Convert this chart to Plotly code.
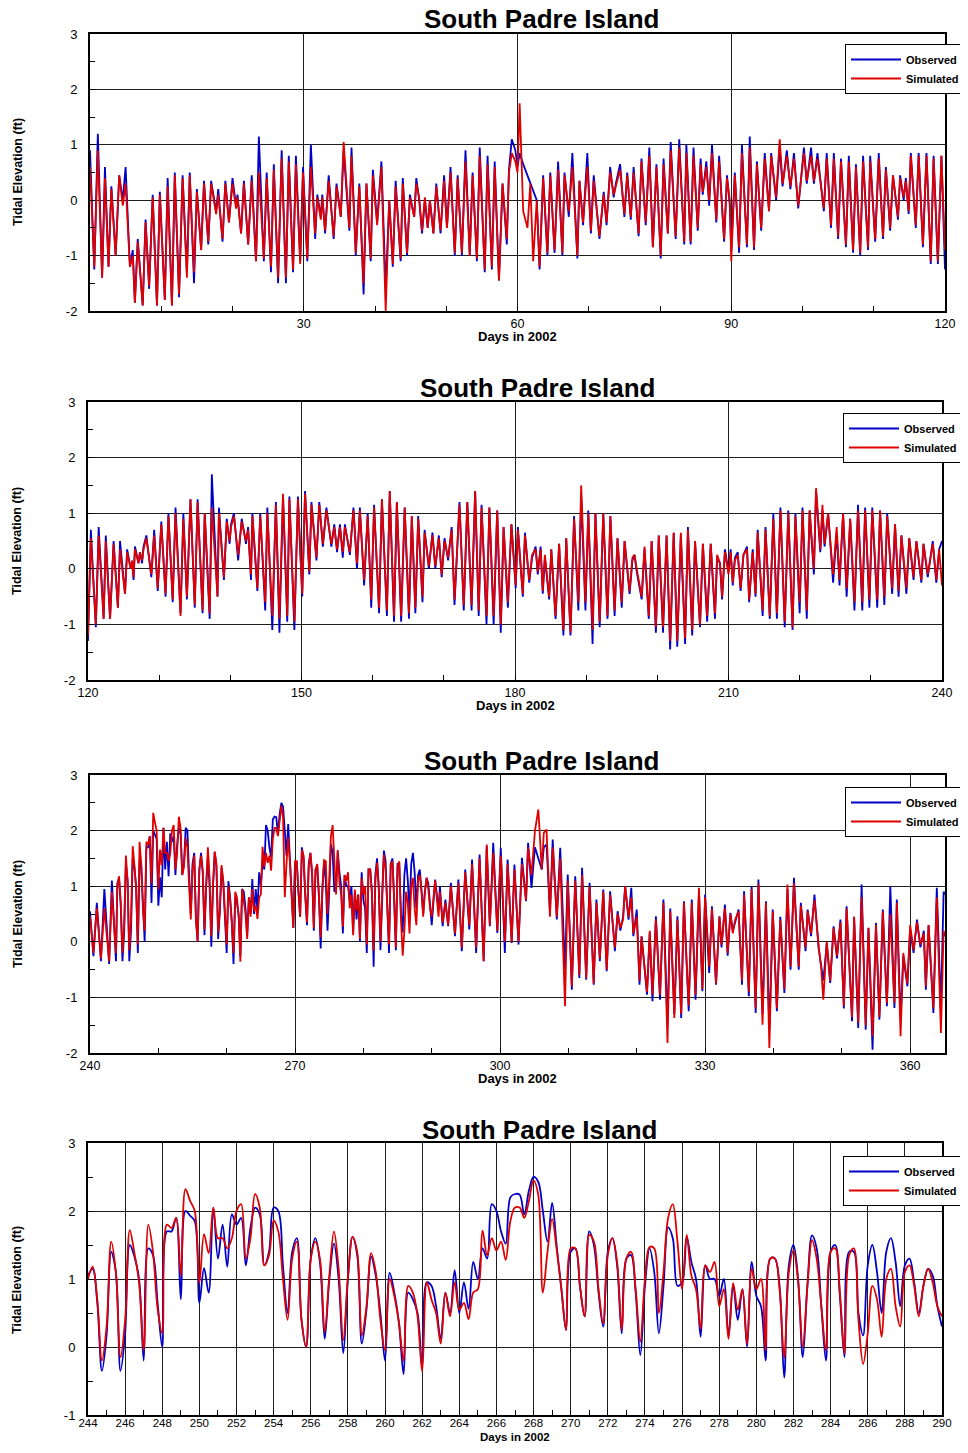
import numpy as np
import plotly.graph_objects as go

# ---------------- DATA ----------------
# Panel 1: days 0-120
p1_day = [0.0, 0.6, 1.1, 1.7, 2.1, 2.6, 3.0, 3.6, 4.1, 4.6,
          5.0, 5.6, 6.0, 6.3, 6.7, 7.4, 7.8, 8.3, 8.8, 9.4,
          9.8, 10.5, 10.9, 11.5, 11.9, 12.5, 13.0, 13.6, 14.0, 14.6,
          15.0, 15.6, 16.0, 16.6, 17.0, 17.7, 18.0, 18.6, 19.0, 19.5,
          20.0, 20.5, 20.7, 21.2, 21.6, 22.2, 22.7, 23.3, 23.7, 24.4,
          24.8, 25.4, 25.8, 26.4, 26.9, 27.5, 27.9, 28.5, 28.9, 29.5,
          29.9, 30.5, 31.0, 31.6, 31.9, 32.4, 32.6, 33.0, 33.5, 34.2,
          34.6, 35.2, 35.6, 36.0, 36.4, 36.7, 37.3, 37.8, 38.4, 38.8,
          39.4, 39.7, 40.3, 40.9, 41.5, 42.0, 42.5, 42.9, 43.6, 43.9,
          44.5, 44.9, 45.5, 45.8, 46.2, 46.6, 47.0, 47.4, 47.7, 48.2,
          48.6, 49.2, 49.7, 50.1, 50.6, 51.2, 51.6, 52.2, 52.7, 53.3,
          53.7, 54.3, 54.7, 55.4, 55.8, 56.4, 56.8, 57.4, 57.9, 58.5,
          58.8, 59.2, 59.7, 60.0, 60.3, 60.8, 61.4, 61.8, 62.2, 62.7,
          63.1, 63.6, 64.2, 64.6, 65.2, 65.7, 66.3, 66.6, 67.2, 67.7,
          68.4, 68.7, 69.2, 69.8, 70.3, 70.7, 71.5, 72.1, 72.5, 73.0,
          73.5, 73.8, 74.4, 75.0, 75.4, 75.9, 76.3, 77.0, 77.4, 78.0,
          78.5, 79.0, 79.5, 80.1, 80.5, 81.1, 81.5, 82.2, 82.7, 83.4,
          83.7, 84.3, 84.7, 85.3, 85.7, 86.0, 86.5, 86.9, 87.3, 87.9,
          88.3, 89.0, 89.4, 89.8, 90.0, 90.5, 91.1, 91.5, 92.2, 92.6,
          93.2, 93.6, 94.2, 94.7, 95.3, 95.6, 96.3, 96.8, 97.2, 97.8,
          98.3, 98.8, 99.4, 100.2, 100.6, 101.2, 101.6, 102.1, 103.0, 103.4,
          104.0, 104.4, 105.0, 105.4, 106.1, 106.5, 107.1, 107.5, 108.1, 108.5,
          109.2, 109.5, 110.2, 110.7, 111.3, 111.7, 112.3, 112.7, 113.4, 113.7,
          114.2, 114.5, 114.9, 115.2, 115.9, 116.3, 116.9, 117.4, 118.0, 118.4,
          119.0, 119.5, 120.0]
p1_obs = [0.9, -1.25, 1.2, -1.4, 0.6, -1.2, 0.25, -1.0, 0.45, 0.0,
          0.6, -1.2, -0.9, -1.85, -0.7, -1.9, -0.35, -1.6, 0.1, -1.9,
          0.15, -1.8, 0.4, -1.9, 0.5, -1.75, 0.45, -1.3, 0.5, -1.5,
          0.2, -0.9, 0.35, -0.8, 0.35, -0.2, 0.2, -0.75, 0.35, -0.4,
          0.4, -0.1, 0.1, -0.6, 0.35, -0.8, 0.45, -1.1, 1.15, -1.1,
          0.5, -1.3, 0.65, -1.5, 0.9, -1.5, 0.8, -1.3, 0.8, -1.1,
          0.6, -1.1, 1.0, -0.7, 0.1, -0.3, 0.1, -0.6, 0.45, -0.7,
          0.3, -0.3, 0.9, 0.2, -0.55, 0.95, -1.0, 0.3, -1.7, 0.3,
          -1.1, 0.55, -0.4, 0.7, -1.6, 0.0, -1.2, 0.35, -1.1, 0.4,
          -1.0, 0.1, -0.3, 0.4, 0.0, -0.6, 0.0, -0.5, 0.0, -0.6,
          0.3, -0.6, 0.45, -0.5, 0.6, -1.0, 0.45, -1.0, 0.9, -1.0,
          0.5, -1.1, 0.95, -1.3, 0.8, -1.25, 0.7, -1.45, 0.3, -0.8,
          0.55, 1.1, 0.9, 0.6, 0.85, 0.65, None, None, None, 0.0,
          -1.25, 0.45, -1.0, 0.5, -0.95, 0.7, -1.0, 0.5, -0.3, 0.85,
          -1.05, 0.35, -0.45, 0.85, -0.6, 0.45, -0.7, 0.15, -0.45, 0.6,
          0.05, 0.3, 0.65, -0.3, 0.5, -0.35, 0.6, -0.65, 0.75, -0.45,
          0.95, -0.85, 0.65, -1.05, 0.75, -0.6, 1.05, -0.7, 1.1, -0.8,
          1.0, -0.8, 0.95, -0.55, 0.75, 0.1, 0.7, -0.1, 1.0, -0.4,
          0.8, -0.75, 0.45, -0.1, -0.9, 0.5, -0.95, 1.0, -0.85, 1.15,
          -0.9, 0.7, -0.55, 0.85, -0.2, 0.85, 0.0, 0.95, 0.25, 0.9,
          0.2, 0.85, -0.15, 0.95, 0.3, 0.95, 0.3, 0.85, -0.2, 0.85,
          -0.5, 0.85, -0.7, 0.75, -0.85, 0.8, -0.95, 0.65, -1.0, 0.8,
          -0.9, 0.8, -0.75, 0.85, -0.7, 0.6, -0.55, 0.45, -0.35, 0.45,
          0.0, 0.4, -0.25, 0.85, -0.5, 0.85, -0.85, 0.85, -1.15, 0.8,
          -1.15, 0.8, -1.25]
p1_sim = [0.6, -1.2, 0.9, -1.4, 0.4, -1.2, 0.2, -1.0, 0.45, -0.1,
          0.3, -1.2, -1.0, -1.85, -0.75, -1.9, -0.4, -1.55, 0.05, -1.9,
          0.1, -1.8, 0.25, -1.9, 0.45, -1.7, 0.4, -1.4, 0.45, -1.3,
          0.15, -0.9, 0.3, -0.75, 0.3, -0.25, 0.1, -0.7, 0.3, -0.4,
          0.3, -0.15, 0.05, -0.6, 0.3, -0.8, 0.35, -1.1, 0.5, -1.05,
          0.4, -1.2, 0.55, -1.4, 0.75, -1.4, 0.7, -1.25, 0.65, -1.15,
          0.5, -1.05, 0.6, -0.6, 0.05, -0.35, 0.05, -0.55, 0.35, -0.65,
          0.25, -0.3, 1.05, 0.3, -0.5, 0.8, -0.95, 0.25, -1.5, 0.3,
          -1.05, 0.45, -0.45, 0.6, -2.0, 0.0, -1.15, 0.25, -1.05, 0.3,
          -0.95, 0.05, -0.3, 0.3, 0.05, -0.55, 0.05, -0.5, 0.0, -0.6,
          0.25, -0.55, 0.35, -0.5, 0.5, -0.95, 0.4, -0.95, 0.7, -1.0,
          0.45, -1.05, 0.8, -1.25, 0.65, -1.2, 0.6, -1.45, 0.3, -0.7,
          0.5, 0.85, 0.7, 0.5, 1.75, -0.2, -0.5, 0.3, -1.1, 0.0,
          -1.2, 0.4, -0.95, 0.45, -0.9, 0.55, -0.95, 0.45, -0.2, 0.6,
          -1.0, 0.35, -0.4, 0.6, -0.55, 0.35, -0.65, 0.1, -0.4, 0.5,
          0.1, 0.25, 0.55, -0.25, 0.45, -0.3, 0.5, -0.6, 0.7, -0.4,
          0.8, -0.85, 0.6, -1.0, 0.65, -0.6, 0.9, -0.65, 0.95, -0.75,
          0.85, -0.75, 0.8, -0.5, 0.65, 0.15, 0.6, 0.0, 0.85, -0.35,
          0.7, -0.7, 0.4, 0.0, -1.1, 0.45, -0.85, 0.85, -0.8, 0.95,
          -0.85, 0.65, -0.5, 0.75, -0.2, 0.8, 0.05, 1.1, 0.3, 0.8,
          0.25, 0.75, -0.1, 0.85, 0.35, 0.8, 0.35, 0.75, -0.15, 0.75,
          -0.45, 0.75, -0.65, 0.7, -0.8, 0.7, -0.9, 0.6, -0.95, 0.7,
          -0.85, 0.7, -0.7, 0.75, -0.65, 0.55, -0.5, 0.45, -0.3, 0.4,
          0.05, 0.35, -0.2, 0.8, -0.45, 0.8, -0.8, 0.8, -1.1, 0.75,
          -1.1, 0.8, -0.9]

# Panel 2: days 120-240
p2_day = [120.0, 120.4, 121.1, 121.5, 122.2, 122.5, 123.1, 123.6, 124.2, 124.5,
          125.2, 125.5, 126.0, 126.2, 126.4, 126.6, 127.1, 127.3, 127.6, 127.8,
          128.2, 128.9, 129.3, 129.8, 130.3, 130.9, 131.3, 131.9, 132.3, 133.0,
          133.4, 133.9, 134.4, 135.0, 135.4, 136.1, 136.4, 137.1, 137.4, 138.2,
          138.4, 139.1, 139.5, 139.9, 140.1, 140.5, 141.1, 141.6, 142.2, 142.5,
          142.9, 143.1, 143.8, 144.2, 144.9, 145.2, 145.9, 146.4, 146.9, 147.4,
          148.0, 148.3, 149.0, 149.5, 150.1, 150.5, 151.1, 151.4, 152.1, 152.5,
          153.0, 153.5, 154.2, 154.6, 155.0, 155.4, 155.8, 156.1, 156.8, 157.3,
          157.8, 158.2, 158.8, 159.3, 159.8, 160.2, 160.9, 161.3, 162.0, 162.4,
          163.0, 163.4, 164.0, 164.5, 165.1, 165.5, 166.0, 166.4, 167.0, 167.3,
          167.9, 168.4, 168.8, 169.3, 169.7, 170.1, 170.6, 171.1, 171.5, 172.2,
          172.8, 173.3, 173.9, 174.4, 174.9, 175.3, 176.0, 176.4, 177.0, 177.5,
          178.0, 178.4, 179.0, 179.5, 180.1, 180.4, 181.1, 181.4, 182.0, 182.4,
          182.9, 183.2, 183.6, 183.9, 184.2, 184.8, 185.1, 185.7, 186.2, 186.8,
          187.2, 187.8, 188.3, 188.9, 189.3, 189.9, 190.3, 190.9, 191.3, 191.9,
          192.4, 193.0, 193.4, 194.0, 194.4, 195.0, 195.4, 196.1, 196.5, 196.8,
          197.1, 197.8, 198.2, 198.8, 199.2, 199.8, 200.2, 200.8, 201.3, 201.8,
          202.3, 202.8, 203.3, 203.9, 204.3, 204.9, 205.3, 206.0, 206.4, 207.0,
          207.5, 208.1, 208.4, 208.8, 209.1, 209.5, 210.0, 210.3, 210.6, 210.9,
          211.3, 211.7, 212.1, 212.6, 212.9, 213.4, 213.8, 214.1, 214.8, 215.2,
          215.8, 216.3, 216.8, 217.3, 217.9, 218.4, 219.0, 219.4, 220.0, 220.4,
          221.0, 221.4, 222.0, 222.3, 222.9, 223.2, 223.5, 224.0, 224.4, 224.7,
          225.2, 225.6, 226.1, 226.6, 227.1, 227.7, 228.2, 228.8, 229.2, 229.8,
          230.2, 230.9, 231.3, 231.9, 232.3, 233.0, 233.4, 233.9, 234.3, 235.0,
          235.4, 236.0, 236.4, 237.1, 237.4, 238.0, 238.7, 239.2, 239.6, 240.0]
p2_obs = [-1.3, 0.7, -1.05, 0.75, -0.9, 0.6, -0.9, 0.5, -0.7, 0.5,
          -0.45, 0.35, 0.0, 0.1, -0.2, 0.4, 0.1, 0.3, 0.1, 0.4,
          0.6, -0.15, 0.7, -0.4, 0.85, -0.5, 1.0, -0.6, 1.1, -0.8,
          1.0, -0.55, 1.25, -0.7, 1.25, -0.8, 1.0, -0.9, 1.7, -0.5,
          1.1, -0.2, 0.9, 0.45, 0.8, 1.0, 0.15, 0.9, 0.45, 0.75,
          -0.2, 1.0, -0.4, 1.0, -0.75, 1.1, -1.1, 1.2, -1.15, 1.3,
          -0.95, 1.3, -1.1, 1.3, -0.5, 1.4, -0.1, 1.2, 0.15, 1.2,
          0.4, 1.1, 0.4, 0.8, 0.3, 0.8, 0.2, 0.8, 0.25, 1.1,
          0.0, 1.1, -0.3, 1.0, -0.7, 1.15, -0.8, 1.25, -0.85, 1.4,
          -0.95, 1.2, -0.95, 1.1, -0.9, 0.95, -0.8, 0.95, -0.6, 0.7,
          0.0, 0.65, 0.0, 0.6, -0.15, 0.55, 0.15, 0.75, -0.65, 1.2,
          -0.75, 1.2, -0.75, 1.4, -0.85, 1.15, -1.0, 1.1, -1.0, 1.05,
          -1.15, 0.75, -0.7, 0.8, -0.35, 0.75, -0.5, 0.65, -0.25, 0.2,
          0.4, -0.1, 0.4, -0.45, 0.2, -0.55, 0.35, -0.9, 0.45, -1.2,
          0.55, -1.2, 0.95, -0.75, 1.3, -0.75, 1.05, -1.35, 1.0, -1.05,
          1.0, -0.9, 0.95, -0.85, 0.55, -0.7, 0.5, -0.45, 0.15, 0.25,
          -0.05, -0.55, 0.35, -0.9, 0.5, -1.15, 0.6, -1.15, 0.6, -1.45,
          0.65, -1.4, 0.6, -1.35, 0.75, -1.2, 0.5, -1.05, 0.45, -0.95,
          0.45, -0.9, 0.2, 0.1, -0.55, 0.35, -0.05, 0.35, -0.3, 0.2,
          0.3, -0.4, 0.25, 0.4, -0.6, 0.35, -0.5, 0.7, -0.85, 0.75,
          -0.9, 1.0, -0.9, 1.1, -1.05, 1.05, -1.1, 1.0, -0.8, 1.1,
          -0.9, 1.05, -0.1, 1.4, 0.3, 1.05, 0.4, 1.0, 0.3, -0.25,
          0.65, -0.3, 1.0, -0.5, 0.9, -0.75, 1.15, -0.75, 1.1, -0.7,
          1.1, -0.7, 1.05, -0.65, 1.0, -0.45, 0.8, -0.5, 0.6, -0.45,
          0.55, -0.2, 0.5, -0.25, 0.45, -0.15, 0.5, -0.25, 0.35, 0.5]
p2_sim = [-1.2, 0.55, -1.0, 0.6, -0.9, 0.5, -0.9, 0.45, -0.7, 0.35,
          -0.45, 0.3, 0.0, 0.15, -0.15, 0.35, 0.1, 0.3, 0.15, 0.35,
          0.55, -0.1, 0.6, -0.35, 0.8, -0.45, 0.95, -0.55, 1.0, -0.85,
          0.9, -0.5, 1.25, -0.65, 1.2, -0.75, 1.0, -0.8, 1.1, -0.5,
          1.0, -0.15, 0.85, 0.5, 0.75, 0.95, 0.25, 0.85, 0.5, 0.7,
          -0.1, 0.95, -0.35, 0.95, -0.6, 1.0, -0.85, 1.15, -0.9, 1.35,
          -0.85, 1.25, -0.95, 1.25, -0.45, 1.35, -0.05, 1.15, 0.2, 1.15,
          0.45, 1.05, 0.45, 0.75, 0.35, 0.75, 0.3, 0.75, 0.3, 1.05,
          0.1, 1.05, -0.2, 0.95, -0.55, 1.1, -0.7, 1.25, -0.75, 1.4,
          -0.85, 1.2, -0.85, 1.1, -0.8, 0.95, -0.7, 0.9, -0.5, 0.65,
          0.05, 0.6, 0.05, 0.55, -0.1, 0.5, 0.2, 0.7, -0.55, 1.15,
          -0.65, 1.2, -0.65, 1.4, -0.75, 1.1, -0.85, 1.1, -0.85, 1.05,
          -1.0, 0.75, -0.6, 0.8, -0.3, 0.7, -0.45, 0.6, -0.2, 0.25,
          0.35, -0.05, 0.35, -0.4, 0.25, -0.5, 0.35, -0.85, 0.45, -1.1,
          0.55, -1.15, 0.9, -0.6, 1.5, -0.6, 1.0, -1.1, 1.0, -0.95,
          1.0, -0.85, 0.95, -0.75, 0.55, -0.6, 0.5, -0.4, 0.2, 0.25,
          0.0, -0.5, 0.4, -0.85, 0.5, -1.05, 0.6, -1.05, 0.6, -1.3,
          0.65, -1.3, 0.65, -1.25, 0.7, -1.1, 0.5, -1.0, 0.45, -0.85,
          0.45, -0.8, 0.25, 0.1, -0.5, 0.3, -0.1, 0.3, -0.25, 0.15,
          0.25, -0.35, 0.25, 0.35, -0.55, 0.3, -0.45, 0.65, -0.75, 0.7,
          -0.85, 0.9, -0.8, 1.05, -0.95, 1.0, -1.05, 0.95, -0.6, 1.05,
          -0.75, 1.05, 0.0, 1.45, 0.35, 1.15, 0.45, 1.0, 0.35, -0.1,
          0.75, -0.2, 1.0, -0.35, 0.9, -0.6, 1.05, -0.6, 1.05, -0.55,
          1.05, -0.55, 1.05, -0.5, 0.95, -0.35, 0.8, -0.4, 0.6, -0.35,
          0.55, -0.15, 0.5, -0.2, 0.45, -0.1, 0.45, -0.2, 0.35, -0.3]

# Days 244-290 at quarter-day steps (shared by panel 3 and the zoomed panel 4)
p4_start = 244.0
p4_step = 0.25
p4_obs = [1.05, 1.15, 0.65, -0.35,  0.17, 1.4, 1.1, -0.35,
          0.2, 1.5, 1.33, 1.0,  -0.2, 1.45, 1.35, 0.65,
          0.0, 1.7, 1.7, 1.9,  0.7, 2.0, 1.93, 1.85,
          0.65, 1.16, 0.8, 2.05,  1.3, 1.8, 1.18, 1.95,
          1.8, 1.9, 1.2, 1.75,  2.05, 1.95, 1.2, 1.4,
          2.05, 2.0, 1.2, 0.5,  1.4, 1.6, 0.4, 0.0,
          1.3, 1.6, 1.23, 0.12,  1.0, 1.52, 1.0, -0.09,
          0.99, 1.62, 1.35, 0.05,  0.55, 1.33, 1.05, 0.5,
          -0.2, 1.09, 0.8, 0.35,  -0.4, 0.8, 0.7, 0.5,
          -0.26, 0.95, 0.9, 0.6,  0.12, 0.8, 0.5, 1.13,
          0.5, 0.95, 0.56, 1.25,  1.0, 1.45, 1.3, 2.1,
          2.0, 1.7, 1.52, 2.2,  2.25, 2.24, 1.95, 2.3,
          2.5, 2.43, 2.0, 1.55,  2.12, 1.47, 0.85, 0.25,
          1.4, 1.45, 0.89, 0.45,  1.7, 1.5, 0.8, 0.3,
          1.4, 1.6, 1.2, 0.2,  1.3, 1.35, 0.8, -0.12,
          0.9, 1.45, 1.1, 0.2,  0.9, 1.76, 1.6, 0.9,
          0.95, 1.62, 1.25, 1.0,  0.15, 1.2, 1.0, 1.0,
          0.75, 1.0, 0.17, 0.9,  0.4, 0.85, 0.0, 1.25,
          0.75, 0.6, -0.2, 1.3,  1.3, 0.9, -0.45, 1.2,
          1.5, 1.0, -0.15, 0.9,  1.64, 1.45, 0.6, -0.2,
          1.4, 1.5, 0.75, -0.15,  1.4, 1.4, 0.5, 0.17,
          1.2, 1.5, 1.1, 0.5,  1.4, 1.6, 1.25, 0.6,
          1.2, 1.3, 0.95, 0.5,  0.9, 1.15, 1.05, 0.6,
          0.3]
p4_sim = [1.0, 1.18, 0.7, -0.2,  0.3, 1.55, 1.1, -0.15,
          0.4, 1.72, 1.38, 0.95,  -0.05, 1.8, 1.4, 0.56,
          0.2, 1.8, 1.75, 1.9,  1.05, 2.32, 2.15, 2.0,
          0.94, 1.66, 1.38, 2.05,  1.6, 1.6, 1.45, 1.6,
          2.0, 2.1, 1.3, 1.6,  2.25, 2.05, 1.2, 1.35,
          1.86, 1.7, 1.0, 0.4,  1.3, 1.55, 0.4, 0.0,
          1.3, 1.55, 1.28, 0.22,  1.05, 1.7, 1.15, 0.1,
          1.04, 1.62, 1.4, 0.17,  0.6, 1.38, 1.1, 0.4,
          -0.05, 1.0, 0.75, 0.35,  -0.2, 0.9, 0.8, 0.45,
          -0.36, 0.95, 0.7, 0.5,  0.05, 0.8, 0.45, 0.95,
          0.55, 0.65, 0.41, 0.8,  0.85, 1.71, 1.35, 1.6,
          1.42, 1.55, 1.28, 1.85,  2.05, 2.05, 1.9, 2.15,
          2.45, 2.24, 0.8, 1.4,  1.88, 1.42, 0.85, 0.25,
          1.45, 1.45, 0.89, 0.45,  1.65, 1.55, 0.85, 0.35,
          1.35, 1.6, 1.25, 0.25,  1.3, 1.4, 0.85, 0.08,
          1.0, 1.47, 1.45, 0.5,  1.1, 1.9, 2.1, 1.55,
          0.85, 1.65, 1.05, 0.85,  0.27, 1.2, 1.1, 1.25,
          0.6, 0.85, 0.12, 0.94,  0.55, 0.85, 0.05, 1.15,
          0.85, 1.0, -0.05, 1.3,  1.3, 0.85, -0.16, 1.1,
          1.42, 0.95, 0.0, 0.9,  1.57, 1.3, 0.6, -0.05,
          1.4, 1.45, 0.8, -0.1,  1.35, 1.45, 0.4, -0.25,
          0.2, 0.9, 0.7, 0.15,  1.0, 1.15, 0.6, 0.3,
          1.1, 1.2, 0.9, 0.45,  0.9, 1.15, 0.95, 0.6,
          0.45]

# Panel 3 extra segments: days 240-244 and 290-365
p3a_day = [240.0, 240.5, 241.0, 241.6, 242.1, 242.8, 243.2, 243.8]
p3a_obs = [0.55, -0.26, 0.7, -0.35, 0.95, -0.4, 1.1, -0.35]
p3a_sim = [0.45, -0.2, 0.6, -0.3, 0.6, -0.35, 0.9, -0.2]

p3b_day = [290.5, 291.0, 291.2, 291.6, 292.0, 292.4, 292.8, 293.4, 293.9, 294.4,
           294.9, 295.5, 295.9, 296.5, 297.0, 297.6, 298.05, 298.5, 299.0, 299.6,
           300.1, 300.7, 301.1, 301.7, 302.1, 302.7, 303.2, 303.8, 304.1, 304.6,
           305.1, 305.6, 306.1, 306.4, 306.8, 307.3, 307.7, 308.3, 308.8, 309.5,
           309.9, 310.5, 311.0, 311.6, 312.0, 312.6, 313.1, 313.7, 314.1, 314.6,
           315.1, 315.6, 316.1, 316.8, 317.2, 317.6, 318.0, 318.3, 318.8, 319.2,
           319.5, 320.0, 320.4, 320.7, 321.5, 321.9, 322.3, 322.8, 323.4, 323.9,
           324.5, 324.9, 325.5, 325.95, 326.5, 326.9, 327.6, 328.05, 328.6, 329.1,
           329.6, 330.0, 330.6, 331.0, 331.6, 332.1, 332.4, 332.9, 333.3, 333.7,
           334.05, 334.4, 334.9, 335.4, 335.7, 336.4, 336.8, 337.4, 337.8, 338.4,
           338.9, 339.4, 339.9, 340.5, 341.0, 341.6, 342.05, 342.5, 343.0, 343.7,
           344.0, 344.7, 345.0, 345.5, 346.0, 346.6, 347.0, 347.3, 347.8, 348.3,
           348.8, 349.3, 349.8, 350.3, 350.7, 351.5, 351.8, 352.4, 352.9, 353.5,
           353.9, 354.5, 355.0, 355.5, 356.0, 356.6, 357.1, 357.7, 358.05, 358.6,
           359.0, 359.6, 360.0, 360.5, 361.0, 361.5, 362.0, 362.3, 362.7, 363.4,
           363.9, 364.5, 364.9, 365.1]
p3b_obs = [1.12, 0.58, 1.0, 0.28, 0.76, 0.28, 1.06, 0.1, 1.12, -0.17,
           1.3, 0.22, 1.48, -0.2, 1.57, -0.35, 1.72, 0.28, 1.78, 0.16,
           1.69, -0.2, 1.48, -0.02, 1.39, -0.05, 1.51, 0.73, 1.78, 0.97,
           1.7, 1.5, 1.3, 1.7, 1.75, 0.52, 1.84, 0.4, 1.69, -0.5,
           1.21, -0.86, 1.18, -0.65, 1.33, -0.68, 1.06, -0.77, 0.76, -0.35,
           0.94, -0.53, 0.91, -0.17, 0.55, 0.2, 0.45, 1.0, 0.4, 0.97,
           0.1, 0.58, -0.77, 0.1, -0.95, 0.16, -1.07, 0.46, -1.04, 0.76,
           -1.5, 0.6, -1.3, 0.46, -1.37, 0.73, -1.25, 0.76, -1.04, 0.9,
           -0.89, 0.85, -0.56, 0.64, -0.77, 0.46, -0.1, 0.67, -0.25, 0.52,
           0.2, 0.35, 0.58, -0.77, 0.91, -0.98, 1.0, -1.28, 1.12, -1.3,
           0.73, -1.6, 0.58, -1.25, 0.45, -0.92, 0.95, -0.5, 1.15, -0.5,
           0.7, -0.17, 0.58, 0.1, 0.85, -0.11, -0.44, -0.7, -0.02, -0.74,
           0.28, -0.3, 0.4, -1.2, 0.64, -1.43, 0.45, -1.55, 1.03, -1.58,
           0.25, -1.94, 0.34, -1.4, 0.58, -1.16, 1.0, -1.19, 0.76, -1.4,
           -0.26, -0.8, 0.22, -0.2, 0.4, -0.1, 0.2, -0.86, 0.3, -1.28,
           0.97, -1.2, 0.9, 0.85]
p3b_sim = [1.1, 0.45, 0.9, 0.35, 0.7, 0.3, 1.0, 0.15, 1.05, -0.1,
           1.25, 0.3, 1.4, -0.1, 1.5, -0.35, 1.75, 0.3, 1.6, 0.2,
           1.55, 0.0, 1.4, 0.0, 1.3, 0.0, 1.4, 0.75, 1.7, 1.2,
           1.99, 2.38, 1.3, 1.96, 2.02, 0.45, 1.7, 0.45, 1.5, -1.16,
           1.1, -0.8, 1.1, -0.6, 1.2, -0.65, 1.0, -0.75, 0.7, -0.3,
           0.9, -0.5, 0.85, -0.1, 0.5, 0.25, 0.4, 1.0, 0.45, 0.8,
           0.15, 0.45, -0.7, 0.1, -0.9, 0.2, -0.95, 0.4, -0.95, 0.7,
           -1.82, 0.55, -1.37, 0.4, -1.3, 0.7, -1.15, 0.7, -0.95, 0.97,
           -0.85, 0.8, -0.45, 0.6, -0.75, 0.45, -0.05, 0.6, -0.2, 0.5,
           0.15, 0.4, 0.55, -0.7, 0.85, -0.9, 0.95, -1.2, 1.05, -1.49,
           0.7, -1.91, 0.55, -1.2, 0.4, -0.85, 1.03, -0.45, 1.05, -0.45,
           0.65, -0.1, 0.55, 0.15, 0.75, -0.05, -0.5, -1.04, 0.0, -0.7,
           0.25, -0.25, 0.35, -1.15, 0.6, -1.35, 0.45, -1.45, 0.8, -1.5,
           0.25, -1.7, 0.3, -1.35, 0.55, -1.1, 0.5, -1.1, 0.7, -1.7,
           -0.2, -0.75, 0.3, -0.15, 0.35, -0.05, 0.15, -0.8, 0.3, -1.2,
           0.8, -1.64, 0.2, 0.1]

# Tick labels
p1_xticks = [30, 60, 90, 120]
p2_xticks = [120, 150, 180, 210, 240]
p3_xticks = [240, 270, 300, 330, 360]
p4_xticks = list(range(244, 291, 2))
y_ticks_a = [-2, -1, 0, 1, 2, 3]
y_ticks_b = [-1, 0, 1, 2, 3]

TITLE = "South Padre Island"
XTITLE = "Days in 2002"
YTITLE = "Tidal Elevation (ft)"
SERIES = ["Observed", "Simulated"]

# ---------------- BUILD ----------------
# The page keeps the browser's default 8px body margin, so the figure is sized
# to fill the 968x1453 window exactly together with that margin.
PAGE_W, PAGE_H = 968, 1453
OFF = 8
W, H = PAGE_W - 2 * OFF, PAGE_H - 2 * OFF
FONT = "Liberation Sans, Arial, Helvetica, sans-serif"
BLUE = "#0000C8"
RED = "#E00000"
GRID = "#1e1e1e"

p4_day = [round(p4_start + p4_step * i, 2) for i in range(len(p4_obs))]
p3_day = p3a_day + p4_day + p3b_day
p3_obs = p3a_obs + p4_obs + p3b_obs
p3_sim = p3a_sim + p4_sim + p3b_sim


def fx(px):
    return (px - OFF) / W


def fy(py):
    return 1 - (py - OFF) / H


panels = [
    dict(day=p1_day, obs=p1_obs, sim=p1_sim, xr=[0, 120], yr=[-2, 3], xt=p1_xticks,
         yt=y_ticks_a, xminor=10, xtick0=0, box=(90, 945, 34, 311), shape="linear",
         title=(542, 19, "middle"), xlab=(517, 336, "middle", 13), ylab=(18, 172),
         leg=(845, 44), xfont=12.5, xstand=0),
    dict(day=p2_day, obs=p2_obs, sim=p2_sim, xr=[120, 240], yr=[-2, 3], xt=p2_xticks,
         yt=y_ticks_a, xminor=10, xtick0=120, box=(88, 942, 402, 680), shape="linear",
         title=(538, 388, "middle"), xlab=(515, 705, "middle", 13), ylab=(17, 541),
         leg=(843, 413), xfont=12.5, xstand=0),
    dict(day=p3_day, obs=p3_obs, sim=p3_sim, xr=[240, 365.1], yr=[-2, 3], xt=p3_xticks,
         yt=y_ticks_a, xminor=10, xtick0=240, box=(90, 945, 775, 1053), shape="linear",
         title=(542, 761, "middle"), xlab=(517, 1078, "middle", 13), ylab=(18, 914),
         leg=(845, 787), xfont=12.5, xstand=0),
    dict(day=p4_day, obs=p4_obs, sim=p4_sim, xr=[244, 290], yr=[-1, 3], xt=p4_xticks,
         yt=y_ticks_b, xminor=1, xtick0=244, box=(88, 942, 1143, 1415), shape="spline",
         title=(540, 1130, "middle"), xlab=(515, 1445, "bottom", 11.5), ylab=(17, 1280),
         leg=(843, 1156), xfont=11.5, xstand=-4),
]

fig = go.Figure()
annotations = []
layout = dict(
    width=W, height=H, autosize=False,
    margin=dict(l=0, r=0, t=0, b=0, pad=0, autoexpand=False),
    paper_bgcolor="white", plot_bgcolor="white",
    showlegend=True,
    font=dict(family=FONT, color="black"),
)

for i, P in enumerate(panels, start=1):
    sfx = "" if i == 1 else str(i)
    x0, x1, y0, y1 = P["box"]
    leg_name = "legend" if i == 1 else f"legend{i}"
    n = min(len(P["day"]), len(P["obs"]), len(P["sim"]))
    fig.add_trace(go.Scatter(
        x=P["day"][:n], y=P["obs"][:n], mode="lines", name=SERIES[0],
        line=dict(color=BLUE, width=1.8, shape=P["shape"]),
        connectgaps=True, xaxis="x" + sfx, yaxis="y" + sfx, legend=leg_name,
        hoverinfo="skip"))
    fig.add_trace(go.Scatter(
        x=P["day"][:n], y=P["sim"][:n], mode="lines", name=SERIES[1],
        line=dict(color=RED, width=1.8, shape=P["shape"]),
        xaxis="x" + sfx, yaxis="y" + sfx, legend=leg_name, hoverinfo="skip"))

    layout["xaxis" + sfx] = dict(
        domain=[fx(x0), fx(x1)], anchor="y" + sfx, range=P["xr"],
        tickmode="array", tickvals=P["xt"], ticktext=[str(v) for v in P["xt"]],
        ticks="inside", ticklen=5, tickwidth=1, tickcolor="black",
        showline=True, linewidth=2, linecolor="black", mirror=True,
        showgrid=True, gridcolor=GRID, gridwidth=1, zeroline=False,
        tickfont=dict(family=FONT, size=P["xfont"], color="black"),
        ticklabelstandoff=P["xstand"], automargin=False,
        minor=dict(tick0=P["xtick0"], dtick=P["xminor"], ticks="inside", ticklen=5,
                   tickcolor="black", tickwidth=1, showgrid=False),
        fixedrange=True,
    )
    layout["yaxis" + sfx] = dict(
        domain=[fy(y1), fy(y0)], anchor="x" + sfx, range=P["yr"],
        tickmode="array", tickvals=P["yt"], ticktext=[str(v) for v in P["yt"]],
        ticks="inside", ticklen=5, tickwidth=1, tickcolor="black",
        showline=True, linewidth=2, linecolor="black", mirror=True,
        showgrid=True, gridcolor=GRID, gridwidth=1, zeroline=False,
        tickfont=dict(family=FONT, size=13, color="black"),
        ticklabelstandoff=8, automargin=False,
        minor=dict(tick0=0, dtick=0.5, ticks="inside", ticklen=5,
                   tickcolor="black", tickwidth=1, showgrid=False),
        fixedrange=True,
    )
    lx, ly = P["leg"]
    layout[leg_name] = dict(
        xref="container", yref="container",
        x=fx(lx), y=fy(ly), xanchor="left", yanchor="top",
        bgcolor="white", bordercolor="black", borderwidth=1,
        font=dict(family=FONT, size=11, color="black", weight="bold"),
        itemwidth=50, tracegroupgap=0,
    )
    tx, ty, tanc = P["title"]
    annotations.append(dict(text="<b>" + TITLE + "</b>", x=fx(tx), y=fy(ty),
                            xref="paper", yref="paper", xanchor="center", yanchor=tanc,
                            showarrow=False, font=dict(family=FONT, size=26, color="black")))
    ax_, ay_, aanc, asz = P["xlab"]
    annotations.append(dict(text="<b>" + XTITLE + "</b>", x=fx(ax_), y=fy(ay_),
                            xref="paper", yref="paper", xanchor="center", yanchor=aanc,
                            showarrow=False, font=dict(family=FONT, size=asz, color="black")))
    bx, by = P["ylab"]
    annotations.append(dict(text="<b>" + YTITLE + "</b>", x=fx(bx), y=fy(by),
                            xref="paper", yref="paper", xanchor="center", yanchor="middle",
                            textangle=-90, showarrow=False,
                            font=dict(family=FONT, size=12.5, color="black")))

layout["annotations"] = annotations
fig.update_layout(**layout)

fig.write_html(
    "out.html",
    config={"responsive": False, "displayModeBar": False},
)
